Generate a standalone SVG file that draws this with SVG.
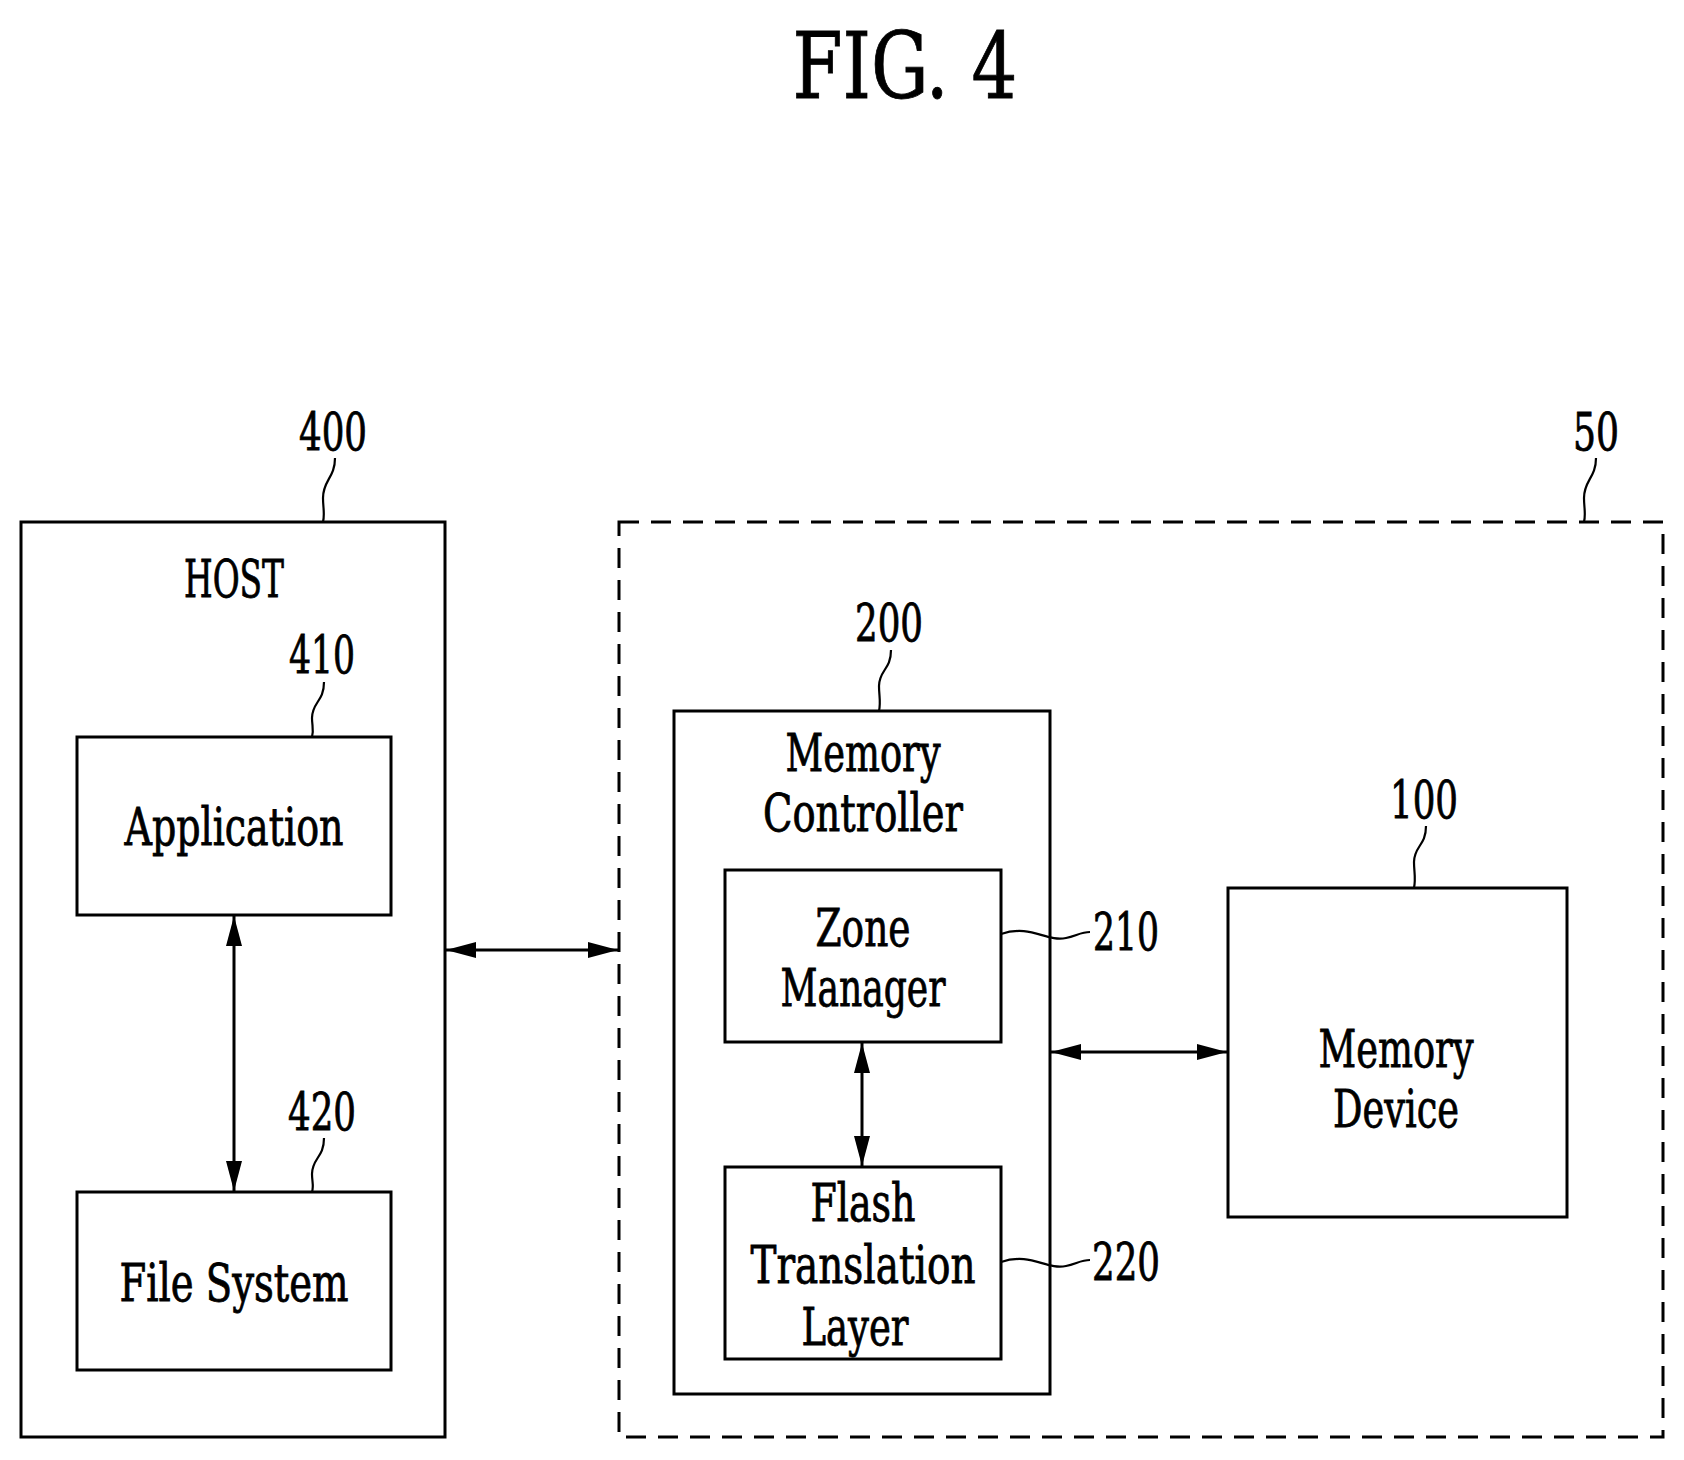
<svg xmlns="http://www.w3.org/2000/svg" width="1684" height="1460" viewBox="0 0 1684 1460">
<style>
.b{fill:none;stroke:#000;stroke-width:3}
.t{font-family:"DejaVu Serif Condensed","DejaVu Serif","Liberation Serif",serif;font-stretch:condensed;font-size:52px;text-anchor:middle;fill:#000;stroke:#000;stroke-width:0.8}
.l{fill:none;stroke:#000;stroke-width:2.2}
</style>
<defs>
<marker id="a" viewBox="0 0 30 16" refX="30" refY="8" markerWidth="30" markerHeight="16" markerUnits="userSpaceOnUse" orient="auto-start-reverse"><path d="M0,0L30,8L0,16z" fill="#000"/></marker>
</defs>
<text class="t" x="905" y="98" style="font-size:92px" textLength="225" lengthAdjust="spacingAndGlyphs">FIG. 4</text>
<g id="host"><rect class="b" x="21" y="522" width="424" height="915"/><text class="t" x="234" y="597" textLength="100" lengthAdjust="spacingAndGlyphs">HOST</text>
<text class="t" x="333" y="450" textLength="68" lengthAdjust="spacingAndGlyphs">400</text><path class="l" d="M335,458c0,20 -12,22 -12,40c0,10 2,16 0,24"/></g>
<g id="sys50"><rect class="b" x="619" y="522" width="1044" height="915" stroke-dasharray="20,12"/>
<text class="t" x="1596" y="450" textLength="46" lengthAdjust="spacingAndGlyphs">50</text><path class="l" d="M1596,458c0,20 -12,22 -12,40c0,10 2,16 0,24"/></g>
<g id="app"><rect class="b" x="77" y="737" width="314" height="178"/><text class="t" x="234" y="845" textLength="219" lengthAdjust="spacingAndGlyphs">Application</text>
<text class="t" x="322" y="673" textLength="66" lengthAdjust="spacingAndGlyphs">410</text><path class="l" d="M324,682c0,20 -12,20 -12,36c0,8 2,12 0,19"/></g>
<g id="fs"><rect class="b" x="77" y="1192" width="314" height="178"/><text class="t" x="234" y="1301" textLength="229" lengthAdjust="spacingAndGlyphs">File System</text>
<text class="t" x="322" y="1130" textLength="68" lengthAdjust="spacingAndGlyphs">420</text><path class="l" d="M324,1138c0,20 -12,20 -12,36c0,8 2,12 0,18"/></g>
<g id="mc"><rect class="b" x="674" y="711" width="376" height="683"/><text class="t" x="863" y="771" textLength="155" lengthAdjust="spacingAndGlyphs">Memory</text><text class="t" x="863" y="831" textLength="200" lengthAdjust="spacingAndGlyphs">Controller</text>
<text class="t" x="889" y="641" textLength="68" lengthAdjust="spacingAndGlyphs">200</text><path class="l" d="M891,650c0,20 -12,20 -12,36c0,10 2,16 0,25"/></g>
<g id="zone"><rect class="b" x="725" y="870" width="276" height="172"/><text class="t" x="863" y="946" textLength="95" lengthAdjust="spacingAndGlyphs">Zone</text><text class="t" x="863" y="1006" textLength="165" lengthAdjust="spacingAndGlyphs">Manager</text>
<text class="t" x="1126" y="950" textLength="66" lengthAdjust="spacingAndGlyphs">210</text><path class="l" d="M1001,934c30,-10 45,8 65,4c10,-2 15,-6 24,-6"/></g>
<g id="ftl"><rect class="b" x="725" y="1167" width="276" height="192"/><text class="t" x="863" y="1221" textLength="105" lengthAdjust="spacingAndGlyphs">Flash</text><text class="t" x="863" y="1283" textLength="225" lengthAdjust="spacingAndGlyphs">Translation</text><text class="t" x="855" y="1345" textLength="107" lengthAdjust="spacingAndGlyphs">Layer</text>
<text class="t" x="1126" y="1280" textLength="68" lengthAdjust="spacingAndGlyphs">220</text><path class="l" d="M1001,1262c30,-10 45,8 65,4c10,-2 15,-6 24,-6"/></g>
<g id="md"><rect class="b" x="1228" y="888" width="339" height="329"/><text class="t" x="1396" y="1067" textLength="155" lengthAdjust="spacingAndGlyphs">Memory</text><text class="t" x="1396" y="1127" textLength="126" lengthAdjust="spacingAndGlyphs">Device</text>
<text class="t" x="1424" y="818" textLength="68" lengthAdjust="spacingAndGlyphs">100</text><path class="l" d="M1426,826c0,20 -12,20 -12,36c0,10 2,16 0,26"/></g>
<g id="connectors" stroke="#000" stroke-width="3" fill="none">
<line x1="446" y1="950" x2="618" y2="950" marker-start="url(#a)" marker-end="url(#a)"/>
<line x1="234" y1="916" x2="234" y2="1191" marker-start="url(#a)" marker-end="url(#a)"/>
<line x1="862" y1="1043" x2="862" y2="1166" marker-start="url(#a)" marker-end="url(#a)"/>
<line x1="1051" y1="1052" x2="1227" y2="1052" marker-start="url(#a)" marker-end="url(#a)"/>
</g>
</svg>
